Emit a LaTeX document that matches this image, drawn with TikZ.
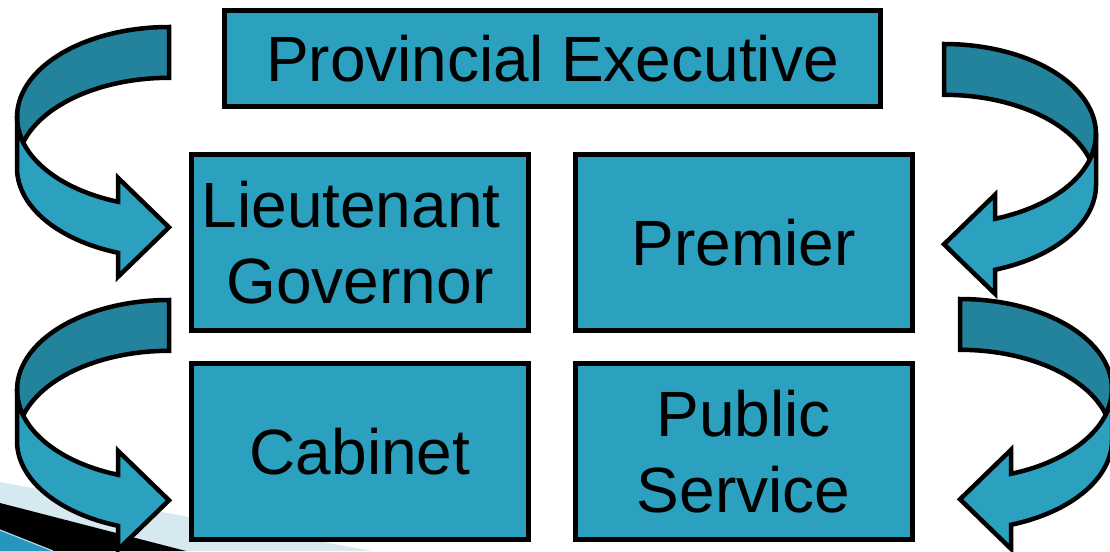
\documentclass[tikz,border=0pt]{standalone}
\usepackage{fontspec}
\setmainfont{Liberation Sans}
\definecolor{boxblue}{RGB}{43,161,191}
\definecolor{bandshade}{RGB}{35,130,156}
\definecolor{paleband}{RGB}{214,233,240}
\definecolor{cornerblue}{RGB}{38,150,190}
\definecolor{cornerline}{RGB}{170,215,232}
\tikzset{
  govbox/.style={rectangle, draw=black, line width=5pt, fill=boxblue, inner sep=0pt,
    font=\fontsize{64}{76}\selectfont, align=center, text=black},
  wideunit/.style={govbox, minimum width=656pt, minimum height=96pt},
  unit/.style={govbox, minimum width=337pt, minimum height=176pt},
  bandback/.style={fill=bandshade, draw=black, line width=4.5pt, line join=miter},
  bandfront/.style={fill=boxblue, draw=black, line width=4.5pt, line join=miter},
}
% Curved ribbon arrow: tail end at the local origin, ribbon bends out to the left
% and comes back with its head pointing right.
\newcommand{\ribbonarrow}{%
  \path[bandback] (0,0)
    arc[start angle=270, end angle=163.6, x radius=152, y radius=90]
    arc[start angle=196.4, end angle=270, x radius=152, y radius=90] -- cycle;
  \path[bandfront] (-152,90) -- (-152,141)
    arc[start angle=180, end angle=109.6, x radius=152, y radius=90]
    -- (-51,249.8) -- (0,200.3) -- (-51,150.8) -- (-51,174.8)
    arc[start angle=109.6, end angle=180, x radius=152, y radius=90] -- cycle;
}
\begin{document}
\begin{tikzpicture}[x=1pt, y=-1pt]
  \useasboundingbox (0,0) rectangle (1110,551);
  \clip (0,0) rectangle (1110,551);

  % swoosh in the lower left corner
  \fill[paleband] (0,482) -- (372,551) -- (0,551) -- cycle;
  \fill[black] (0,503) -- (186,551) -- (0,551) -- cycle;
  \fill[cornerblue] (0,530) -- (53,551) -- (0,551) -- cycle;
  \draw[cornerline, line width=1.2pt] (0,530) -- (53,551);

  % the offices
  \node[wideunit] (exec) at (552.5,58.5) {Provincial Executive};
  \node[unit] (lg) at (360,242.5) {Lieutenant\kern.278em\\Governor};
  \node[unit] (premier) at (743.5,242.5) {Premier};
  \node[unit] (cabinet) at (360,451.5) {Cabinet};
  \node[unit] (public) at (743.5,451.5) {Public\\Service};

  % ribbon arrows on the left
  \begin{scope}[shift={(169,27)}]\ribbonarrow\end{scope}
  \begin{scope}[shift={(169,300)}]\ribbonarrow\end{scope}
  % ribbon arrows on the right (mirrored)
  \begin{scope}[shift={(944,44)}, xscale=-1]\ribbonarrow\end{scope}
  \begin{scope}[shift={(960,299)}, xscale=-1]\ribbonarrow\end{scope}
\end{tikzpicture}
\end{document}
